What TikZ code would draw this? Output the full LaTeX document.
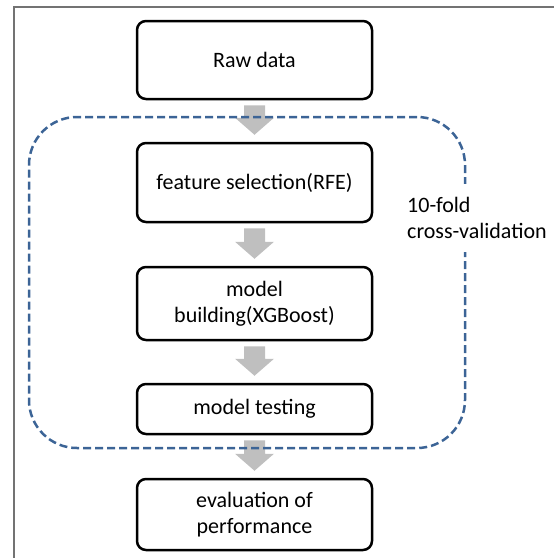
\documentclass[tikz,border=0pt]{standalone}
\usepackage{fontspec}
\setmainfont{Carlito}
\usetikzlibrary{calc,positioning}
\definecolor{cvblue}{RGB}{60,100,150}
\tikzstyle{stage}=[rectangle, rounded corners=9pt, line width=2.5pt, draw=black, fill=white, minimum width=235pt, align=center, inner sep=0pt, anchor=center]
\tikzstyle{fold}=[rectangle, rounded corners=48pt, line width=2.5pt, draw=cvblue, dash pattern=on 8pt off 4pt, minimum width=436pt, minimum height=331pt, inner sep=0pt]
\tikzstyle{annot}=[align=left, inner xsep=0pt, inner ysep=13pt, anchor=west, fill=white]
\tikzstyle{flow}=[fill=black!25, draw=none]
\newcommand{\flowarrow}[2]
{
  \fill[flow] let \p1 = (#1.south), \p2 = (#2.north) in
    (\x1-10.5pt,\y1-5pt) -- (\x1+10.5pt,\y1-5pt) -- (\x1+10.5pt,\y2+24pt) -- (\x1+19.5pt,\y2+24pt)
    -- (\x1,\y2+7pt) -- (\x1-19.5pt,\y2+24pt) -- (\x1-10.5pt,\y2+24pt) -- cycle;
}

\begin{document}
\begin{tikzpicture}[x=1pt, y=-1pt, every node/.style={font=\fontsize{22}{26}\selectfont}]
	\useasboundingbox (0,0) rectangle (554,558);
	\draw[black!55, line width=1.5pt] (14,558) -- (14,7) -- (554,7);

	\node[stage, minimum height=78pt](raw) at (254.5,60){Raw data};
	\node[stage, minimum height=79pt](select) at (254.5,182.5){feature selection(RFE)};
	\node[stage, minimum height=73pt](build) at (254.5,303.5){model\\building(XGBoost)};
	\node[stage, minimum height=50pt](test) at (254.5,409){model testing};
	\node[stage, minimum height=71pt](perf) at (254.5,514.5){evaluation of\\performance};

	\flowarrow{raw}{select}
	\flowarrow{select}{build}
	\flowarrow{build}{test}
	\flowarrow{test}{perf}

	\node[fold](cv) at (247,282.5){};
	\node[annot](cvlabel) at (407,218){10-fold\\cross-validation};
\end{tikzpicture}
\end{document}
